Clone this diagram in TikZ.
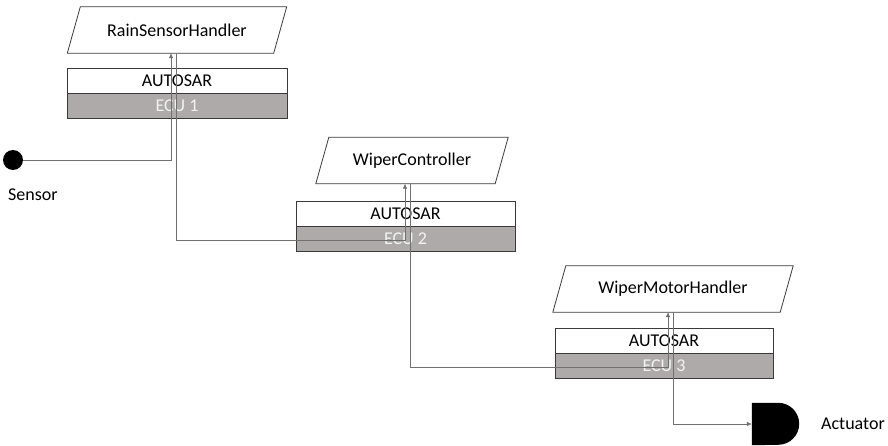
\documentclass[tikz,border=0pt]{standalone}
\usepackage{fontspec}
\setmainfont{Carlito}
\usetikzlibrary{arrows.meta}
\definecolor{ecugray}{HTML}{AEAAAA}
\definecolor{wiregray}{HTML}{707070}
\definecolor{framegray}{HTML}{3A3A3A}

% outline of a software-component parallelogram around a named node
\newcommand\swcoutline[1]{%
  \draw[frame] ([xshift=-6.5pt]#1.south west) -- ([xshift=6.5pt]#1.north west)
    -- ([xshift=6.5pt]#1.north east) -- ([xshift=-6.5pt]#1.south east) -- cycle;}

\begin{document}
\begin{tikzpicture}[x=1pt,y=-1pt,
  font=\fontsize{18}{21}\selectfont,
  frame/.style={draw=framegray, line width=0.8pt},
  swc/.style={minimum height=46pt, inner sep=0pt},
  osbox/.style={frame, fill=white, minimum height=25pt, inner sep=0pt},
  ecubox/.style={frame, fill=ecugray, text=white!95!black, minimum height=25pt, inner sep=0pt},
  wire/.style={draw=wiregray, line width=0.6pt},
  arr/.style={wire, -{Latex[length=5pt,width=4.5pt]}},
  lbl/.style={anchor=west, inner sep=0pt},
]
\useasboundingbox (0,0) rectangle (888,446);

% ECU 1
\node[swc, minimum width=206pt] (rsh) at (177,30) {RainSensorHandler};
\swcoutline{rsh}
\node[osbox, minimum width=220pt] (os1) at (177,80.5) {AUTOSAR};
\node[ecubox, minimum width=220pt] (ecu1) at (177,106) {ECU 1};

% ECU 2
\node[swc, minimum width=179pt] (wc) at (412,160.5) {WiperController};
\swcoutline{wc}
\node[osbox, minimum width=219pt] (os2) at (405.5,213.5) {AUTOSAR};
\node[ecubox, minimum width=219pt] (ecu2) at (405.5,238.5) {ECU 2};

% ECU 3
\node[swc, minimum width=227pt] (wmh) at (673,289) {WiperMotorHandler};
\swcoutline{wmh}
\node[osbox, minimum width=218pt] (os3) at (664,340.5) {AUTOSAR};
\node[ecubox, minimum width=218pt] (ecu3) at (664,365.5) {ECU 3};

% sensor and actuator
\node[circle, fill=black, minimum size=20pt, inner sep=0pt] (sensor) at (13,160) {};
\node[lbl] (sensorlabel) at (8,195) {Sensor};
\node[minimum width=47pt, minimum height=42pt, inner sep=0pt] (act) at (775.5,424) {};
\fill[black] (act.north west) -- ([xshift=-21pt]act.north east)
  arc[start angle=90, end angle=-90, radius=21pt] -- (act.south west) -- cycle;
\node[lbl] (actlabel) at (821,424) {Actuator};

% port positions on the component edges
\coordinate (rshin)  at ([xshift=-6pt]rsh.south);
\coordinate (rshout) at ([xshift=-1pt]rsh.south);
\coordinate (wcin)   at ([xshift=-7pt]wc.south);
\coordinate (wcout)  at ([xshift=-2pt]wc.south);
\coordinate (wmhin)  at ([xshift=-5pt]wmh.south);
\coordinate (wmhout) at ([xshift=0pt]wmh.south);
\coordinate (run1) at (0,240);
\coordinate (run2) at (0,367);

% signal path
\draw[arr] (sensor.east) -- (sensor.east -| rshin) -- (rshin);
\draw[arr] (rshout) -- (rshout |- run1) -- (wcin |- run1) -- (wcin);
\draw[arr] (wcout) -- (wcout |- run2) -- (wmhin |- run2) -- (wmhin);
\draw[arr] (wmhout) -- (wmhout |- act.west) -- (act.west);
\end{tikzpicture}
\end{document}
